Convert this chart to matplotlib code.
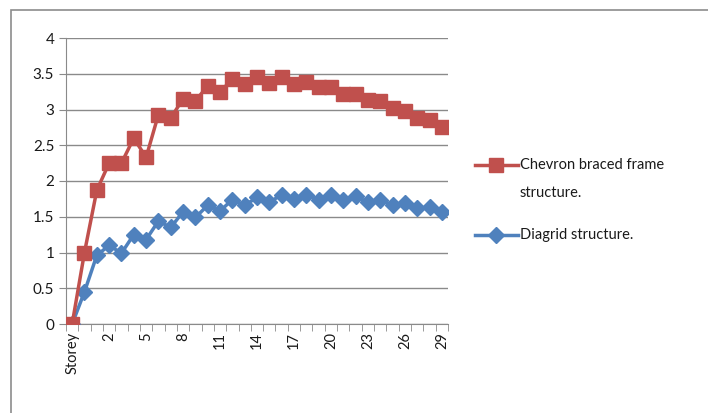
import matplotlib
matplotlib.use("Agg")
import matplotlib.pyplot as plt
from matplotlib.lines import Line2D
from matplotlib.patches import Rectangle

plt.rcParams['font.family'] = ['Lato', 'DejaVu Sans']
plt.rcParams['text.color'] = '#1a1a1a'
plt.rcParams['xtick.labelcolor'] = '#1a1a1a'
plt.rcParams['ytick.labelcolor'] = '#1a1a1a'

# categories: "Storey" then 0..29
categories = ['Storey'] + [str(i) for i in range(30)]

chevron = [0, 1.0, 1.87, 2.25, 2.25, 2.6, 2.33, 2.93, 2.88, 3.15, 3.12,
           3.33, 3.25, 3.42, 3.35, 3.45, 3.37, 3.45, 3.35, 3.38, 3.32,
           3.32, 3.22, 3.22, 3.13, 3.12, 3.02, 2.98, 2.88, 2.85, 2.75]
diagrid = [0, 0.45, 0.96, 1.1, 0.99, 1.25, 1.18, 1.44, 1.35, 1.57, 1.49,
           1.66, 1.58, 1.74, 1.66, 1.77, 1.7, 1.81, 1.75, 1.81, 1.74,
           1.81, 1.73, 1.79, 1.7, 1.74, 1.66, 1.69, 1.62, 1.63, 1.57]

red = '#C0504D'
blue = '#4F81BD'

fig = plt.figure(figsize=(7.08, 4.13), dpi=100)
# outer chart border (runs off the right and bottom edges)
fig.patches.append(Rectangle((11/708, -0.05), 1.2, 1 - 10/413 + 0.05,
                             transform=fig.transFigure, fill=False,
                             edgecolor='#8c8c8c', linewidth=1.2))

ax = fig.add_axes([66/708, 1 - 324/413, 382/708, 286/413])

x = list(range(len(categories)))
ax.plot(x, diagrid, color=blue, lw=2.5, marker='D', ms=8.5,
        mec=blue, mfc=blue, zorder=3)
ax.plot(x, chevron, color=red, lw=2.5, marker='s', ms=10.5,
        mec=red, mfc=red, zorder=4)

ax.set_xlim(-0.5, len(categories) - 0.5)
ax.set_ylim(0, 4)
ax.set_yticks([0, 0.5, 1, 1.5, 2, 2.5, 3, 3.5, 4])
ax.set_yticklabels(['0', '0.5', '1', '1.5', '2', '2.5', '3', '3.5', '4'])
ax.grid(axis='y', color='#8a8a8a', lw=1)
ax.set_axisbelow(True)

ax.set_xticks(x[::3])
ax.set_xticklabels(categories[::3], rotation=90)
ax.set_xticks([i - 0.5 for i in range(len(categories) + 1)], minor=True)
ax.tick_params(axis='x', which='major', length=0, pad=6, labelsize=10.5)
ax.tick_params(axis='x', which='minor', length=5, color='#8a8a8a')
ax.tick_params(axis='y', length=5, color='#8a8a8a', labelsize=11)

for s in ['top', 'right']:
    ax.spines[s].set_visible(False)
for s in ['left', 'bottom']:
    ax.spines[s].set_color('#8a8a8a')

# legend
fig.add_artist(Line2D([475/708, 518/708], [1 - 165/413] * 2, color=red, lw=2.5,
                      transform=fig.transFigure))
fig.add_artist(Line2D([496/708], [1 - 165/413], marker='s', ms=10.5, color=red,
                      transform=fig.transFigure))
fig.add_artist(Line2D([475/708, 518/708], [1 - 235/413] * 2, color=blue, lw=2.5,
                      transform=fig.transFigure))
fig.add_artist(Line2D([496/708], [1 - 235/413], marker='D', ms=8.5, color=blue,
                      transform=fig.transFigure))
fig.text(520/708, 1 - 165/413, 'Chevron braced frame', va='center', fontsize=10.5)
fig.text(520/708, 1 - 193/413, 'structure.', va='center', fontsize=10.5)
fig.text(520/708, 1 - 235/413, 'Diagrid structure.', va='center', fontsize=10.5)

fig.savefig('out.png', dpi=100)
